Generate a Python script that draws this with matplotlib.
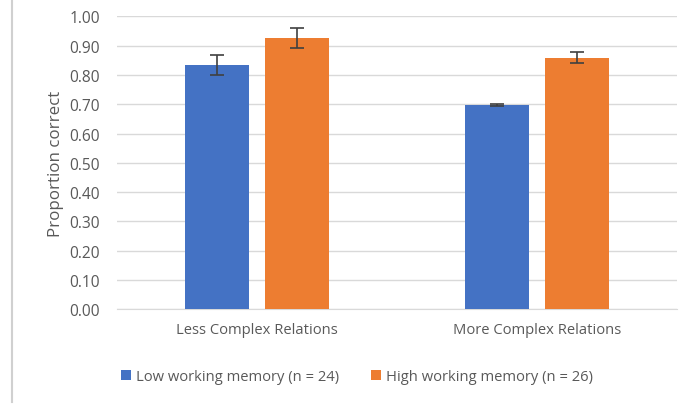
import numpy as np
from matplotlib import pyplot as plt
from matplotlib.lines import Line2D

categories = ['Less Complex Relations', 'More Complex Relations']
low_wm = [0.835, 0.698]
low_err = [0.035, 0.004]
high_wm = [0.926, 0.859]
high_err = [0.035, 0.018]
series_labels = ['Low working memory (n = 24)', 'High working memory (n = 26)']

plt.rcParams['font.family'] = ['Open Sans', 'DejaVu Sans']
grey = '#595959'

fig = plt.figure(figsize=(6.87, 4.06), dpi=100)
ax = fig.add_axes([0.170, 0.236, 0.815, 0.721])

x = np.arange(len(categories))
w = 0.229
off = 0.143
ax.bar(x - off, low_wm, w, yerr=low_err, color='#4472C4', label=series_labels[0],
       error_kw=dict(ecolor='#404040', elinewidth=1.2, capsize=5, capthick=1.2), zorder=3)
ax.bar(x + off, high_wm, w, yerr=high_err, color='#ED7D31', label=series_labels[1],
       error_kw=dict(ecolor='#404040', elinewidth=1.2, capsize=5, capthick=1.2), zorder=3)

ax.set_xlim(-0.5, 1.5)
ax.set_ylim(0, 1.0)
ax.set_yticks(np.arange(0, 1.01, 0.1))
ax.set_yticklabels(['%.2f' % v for v in np.arange(0, 1.01, 0.1)])
ax.set_xticks(x)
ax.set_xticklabels(categories)
ax.yaxis.grid(True, color='#D9D9D9', linewidth=1, zorder=0)
ax.set_axisbelow(True)
for s in ['top', 'right', 'left']:
    ax.spines[s].set_visible(False)
ax.spines['bottom'].set_color('#D9D9D9')
ax.tick_params(axis='both', length=0, colors=grey)
ax.tick_params(axis='y', pad=12, labelsize=11.2)
ax.tick_params(axis='x', pad=9, labelsize=10.6)
ax.set_ylabel('Proportion correct', color=grey, fontsize=12.2, labelpad=4)

fig.legend(loc='center', bbox_to_anchor=(0.52, 0.07), ncol=2, frameon=False,
           fontsize=10.6, labelcolor=grey, handlelength=0.65, handleheight=0.65,
           handletextpad=0.35, columnspacing=2.2)

fig.add_artist(Line2D([12/687, 12/687], [0.008, 1.0], color='#D0D0D0', linewidth=1.5))

plt.savefig('out.png', dpi=100)
